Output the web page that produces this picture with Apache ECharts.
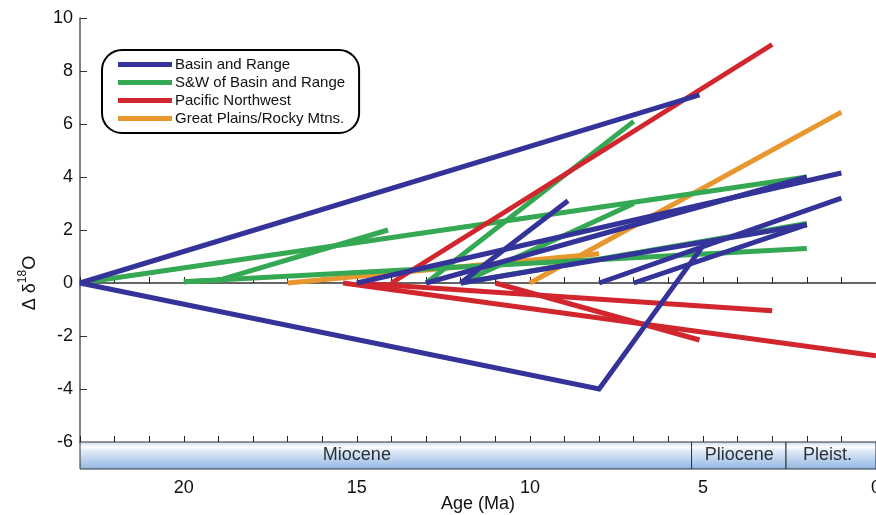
<!DOCTYPE html>
<html>
<head>
<meta charset="utf-8">
<script src="https://cdn.jsdelivr.net/npm/echarts@6/dist/echarts.min.js"></script>
<style>
html,body{margin:0;padding:0;background:#fff;overflow:hidden;width:876px;height:515px;}
#chart{width:876px;height:515px;}
</style>
</head>
<body>
<div id="chart"></div>
<script>
// ---- data (age in Ma, delta d18O) ----
const basinRange = [
  [[23, 0], [5.1, 7.1]],
  [[23, 0], [8, -4], [5, 1.4]],
  [[15, 0], [1, 4.15]],
  [[13, 0], [2, 4.0]],
  [[12, 0], [8.9, 3.1]],
  [[12, 0], [2, 2.2]],
  [[8, 0], [1, 3.2]],
  [[7, 0], [2, 2.2]]
];
const swBasinRange = [
  [[23, 0], [2, 4.0]],
  [[20, 0.05], [19, 0.1], [14.1, 2.0]],
  [[20, 0.05], [2, 1.3]],
  [[12, 0], [2, 2.25]],
  [[12, 0], [7, 3.0]],
  [[13, 0], [7, 6.1]]
];
const pacificNW = [
  [[14, 0], [3, 9.0]],
  [[15.4, 0], [0, -2.75]],
  [[15, 0], [3, -1.05]],
  [[11, 0], [5.1, -2.15]]
];
const greatPlains = [
  [[17, 0], [8, 1.1]],
  [[10, 0], [1, 6.45]]
];
const groupNames = ['Basin and Range', 'S&W of Basin and Range', 'Pacific Northwest', 'Great Plains/Rocky Mtns.'];
const groupColors = ['#333399', '#35A853', '#D1262D', '#E8972F'];
const groupZ = [6, 4, 5, 3];
const groups = [basinRange, swBasinRange, pacificNW, greatPlains];

const epochNames = ['Miocene', 'Pliocene', 'Pleist.'];
const epochStart = [23, 5.33, 2.6];
const epochEnd = [5.33, 2.6, 0];
const epochLabelAt = [15, 3.95, 1.4];

const yTicks = { min: -6, max: 10, interval: 2 };
const xTicks = { min: 0, max: 23, labelInterval: 5, minorInterval: 1 };

const chart = echarts.init(document.getElementById('chart'), null, { renderer: 'canvas' });
const FONT = 'Liberation Sans, Arial, sans-serif';

const series = [];
groups.forEach((segs, gi) => {
  segs.forEach(seg => {
    series.push({
      name: groupNames[gi],
      type: 'line',
      xAxisIndex: 0, yAxisIndex: 0,
      data: seg,
      symbol: 'none',
      showSymbol: false,
      lineStyle: { color: groupColors[gi], width: 5, cap: 'butt', join: 'miter' },
      itemStyle: { color: groupColors[gi] },
      z: groupZ[gi]
    });
  });
});

// epoch band boxes
series.push({
  type: 'line',
  xAxisIndex: 1, yAxisIndex: 1,
  data: [],
  silent: true,
  z: 1,
  markArea: {
    silent: true,
    itemStyle: {
      opacity: 1,
      borderColor: '#333', borderWidth: 1,
      color: new echarts.graphic.LinearGradient(0, 0, 0, 1, [
        { offset: 0, color: '#c2d7f0' },
        { offset: 0.2, color: '#ffffff' },
        { offset: 0.32, color: '#e2ecf9' },
        { offset: 1, color: '#90b5e2' }
      ])
    },
    label: { show: false },
    data: epochNames.map((n, i) => [{ xAxis: epochStart[i] }, { xAxis: epochEnd[i] }])
  }
});
// epoch labels
series.push({
  type: 'scatter',
  xAxisIndex: 1, yAxisIndex: 1,
  symbolSize: 0,
  silent: true,
  z: 10,
  data: epochNames.map((n, i) => ({ name: n, value: [epochLabelAt[i], 0.5] })),
  label: { show: true, position: 'inside', formatter: '{b}', fontSize: 18, color: '#000', fontFamily: FONT }
});

const option = {
  animation: false,
  textStyle: { fontFamily: FONT },
  legend: {
    data: groupNames,
    orient: 'vertical',
    left: 102, top: 50,
    padding: [7, 14, 7, 16],
    itemGap: 3,
    itemWidth: 54, itemHeight: 5,
    icon: 'rect',
    borderColor: '#000', borderWidth: 2, borderRadius: 20,
    textStyle: { fontSize: 15, color: '#111', fontFamily: FONT, padding: [0, 0, 0, -2] }
  },
  grid: [
    { left: 80, right: 0, top: 18, bottom: 73, containLabel: false, outerBoundsMode: 'none' },
    { left: 80, right: 0, top: 442, height: 27, containLabel: false, outerBoundsMode: 'none' }
  ],
  xAxis: [
    {
      gridIndex: 0, type: 'value', min: xTicks.min, max: xTicks.max, inverse: true, interval: xTicks.minorInterval,
      axisLine: { show: true, onZero: true, lineStyle: { color: '#333', width: 1.5 } },
      axisTick: { show: true, inside: true, length: 6, lineStyle: { color: '#222', width: 1 } },
      axisLabel: { show: false }, splitLine: { show: false }
    },
    {
      gridIndex: 1, type: 'value', position: 'top', min: xTicks.min, max: xTicks.max, inverse: true, interval: xTicks.minorInterval,
      axisLine: { show: true, onZero: false, lineStyle: { color: '#333', width: 1 } },
      axisTick: { show: true, inside: false, length: 6, lineStyle: { color: '#222', width: 1 } },
      axisLabel: { show: false }, splitLine: { show: false }
    },
    {
      gridIndex: 1, type: 'value', position: 'bottom', min: xTicks.min, max: xTicks.max, inverse: true, interval: xTicks.labelInterval,
      axisLine: { show: false, onZero: false }, axisTick: { show: false },
      axisLabel: {
        fontSize: 18, color: '#111', margin: 10, fontFamily: FONT,
        formatter: v => (v % xTicks.labelInterval === 0 ? String(v) : '')
      },
      splitLine: { show: false },
      name: 'Age (Ma)', nameLocation: 'middle', nameGap: 26, nameMoveOverlap: false,
      nameTextStyle: { fontSize: 18, color: '#111', fontFamily: FONT }
    }
  ],
  yAxis: [
    {
      gridIndex: 0, type: 'value', min: yTicks.min, max: yTicks.max, interval: yTicks.interval,
      axisLine: { show: true, onZero: false, lineStyle: { color: '#555', width: 1.5 } },
      axisTick: { show: true, inside: true, length: 7, lineStyle: { color: '#333' } },
      axisLabel: { fontSize: 18, color: '#111', margin: 7, fontFamily: FONT },
      splitLine: { show: false },
      name: '{a|Δ δ}{s|18}{a|O}', nameLocation: 'middle', nameGap: 41, nameRotate: 90,
      nameTextStyle: {
        padding: [0, 106, 0, 0],
        rich: {
          a: { fontSize: 18, color: '#111', fontFamily: FONT, lineHeight: 22, verticalAlign: 'bottom' },
          s: { fontSize: 12, color: '#111', fontFamily: FONT, lineHeight: 22, verticalAlign: 'top' }
        }
      }
    },
    { gridIndex: 1, type: 'value', min: 0, max: 1, show: false }
  ],
  series: series
};
chart.setOption(option);
</script>
</body>
</html>
